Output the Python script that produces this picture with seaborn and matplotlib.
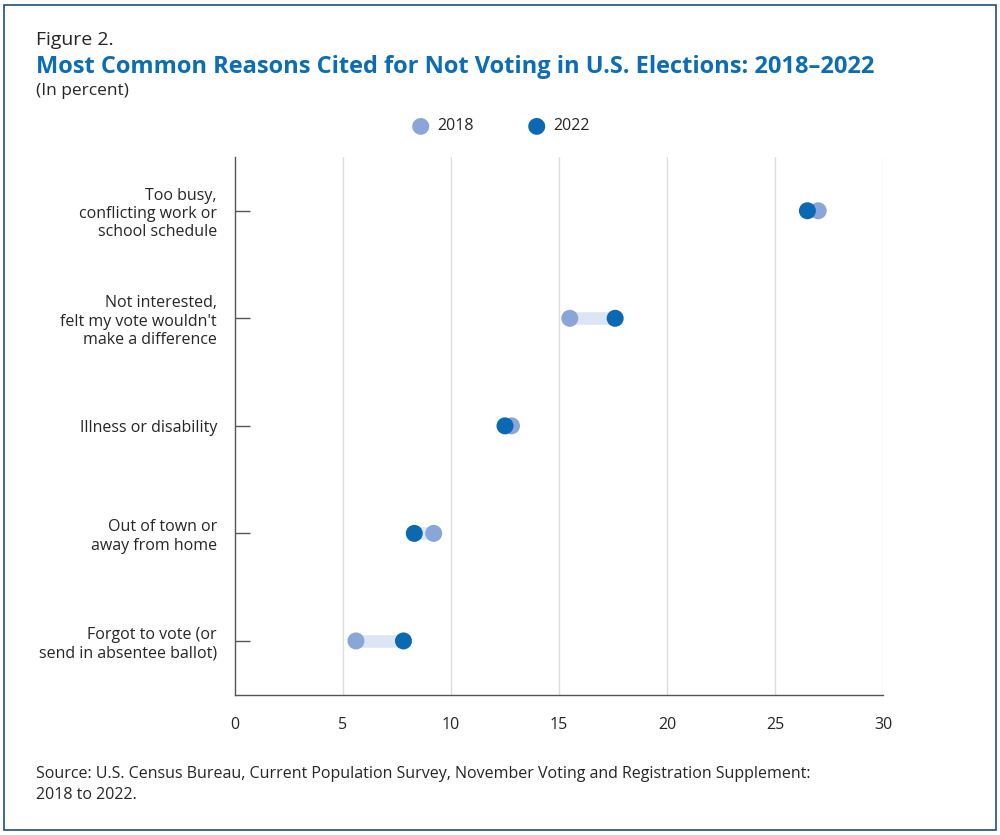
import matplotlib
matplotlib.use("Agg")
import matplotlib.pyplot as plt
import seaborn as sns
import pandas as pd
from matplotlib.patches import Rectangle

# Data
reasons = [
    "Too busy,\nconflicting work or\nschool schedule",
    "Not interested,\nfelt my vote wouldn't\nmake a difference",
    "Illness or disability",
    "Out of town or\naway from home",
    "Forgot to vote (or\nsend in absentee ballot)",
]
values_2018 = [27.0, 15.5, 12.8, 9.2, 5.6]
values_2022 = [26.5, 17.6, 12.5, 8.3, 7.8]
x_ticks = [0, 5, 10, 15, 20, 25, 30]

c2018 = "#8aa6d9"
c2022 = "#0b69b3"
title_blue = "#0a6db5"

df = pd.DataFrame({
    "reason": reasons * 2,
    "value": values_2018 + values_2022,
    "year": ["2018"] * 5 + ["2022"] * 5,
})

sns.set_style("white")
plt.rcParams["font.family"] = ["Open Sans", "DejaVu Sans"]

fig = plt.figure(figsize=(10, 8.35), dpi=100)
ax = fig.add_axes([0.235, 0.168, 0.648, 0.644])

# connectors
for i, (a, b) in enumerate(zip(values_2018, values_2022)):
    ax.plot([a, b], [i, i], color="#dce5f4", lw=9, solid_capstyle="butt", zorder=1)

sns.scatterplot(data=df, x="value", y="reason", hue="year",
                palette={"2018": c2018, "2022": c2022}, s=150,
                edgecolor="none", ax=ax, zorder=3, legend=False)

ax.set_xlim(0, 30)
ax.set_ylim(4.5, -0.5)
ax.set_xticks(x_ticks)
ax.set_xlabel("")
ax.set_ylabel("")
for x in x_ticks[1:]:
    ax.axvline(x, color="#dddddd", lw=1, zorder=0)
for s in ["top", "right"]:
    ax.spines[s].set_visible(False)
for s in ["left", "bottom"]:
    ax.spines[s].set_color("#555555")
    ax.spines[s].set_linewidth(1)
ax.tick_params(axis="y", left=True, direction="in", length=11, width=1,
               color="#555555", pad=13, labelsize=11.5)
ax.tick_params(axis="x", length=0, pad=16, labelsize=11.5)
for lab in ax.get_yticklabels():
    lab.set_horizontalalignment("right")
    lab.set_multialignment("right")

# legend
fig.text(0.42, 0.85, "\u25CF", color=c2018, fontsize=16, ha="center", va="center")
fig.text(0.437, 0.849, "2018", fontsize=11.5, va="center")
fig.text(0.536, 0.85, "\u25CF", color=c2022, fontsize=16, ha="center", va="center")
fig.text(0.553, 0.849, "2022", fontsize=11.5, va="center")

fig.text(0.036, 0.952, "Figure 2.", fontsize=14, va="center")
fig.text(0.036, 0.92, "Most Common Reasons Cited for Not Voting in U.S. Elections: 2018\u20132022",
         fontsize=17, fontweight="bold", color=title_blue, va="center")
fig.text(0.036, 0.891, "(In percent)", fontsize=12.5, va="center")
fig.text(0.036, 0.06, "Source: U.S. Census Bureau, Current Population Survey, November Voting and Registration Supplement:\n2018 to 2022.",
         fontsize=11.5, va="center", linespacing=1.4)

fig.patches.append(Rectangle((0.004, 0.006), 0.992, 0.988, transform=fig.transFigure,
                             fill=False, edgecolor="#1d4f7c", lw=1.2))

fig.savefig("out.png", dpi=100)
